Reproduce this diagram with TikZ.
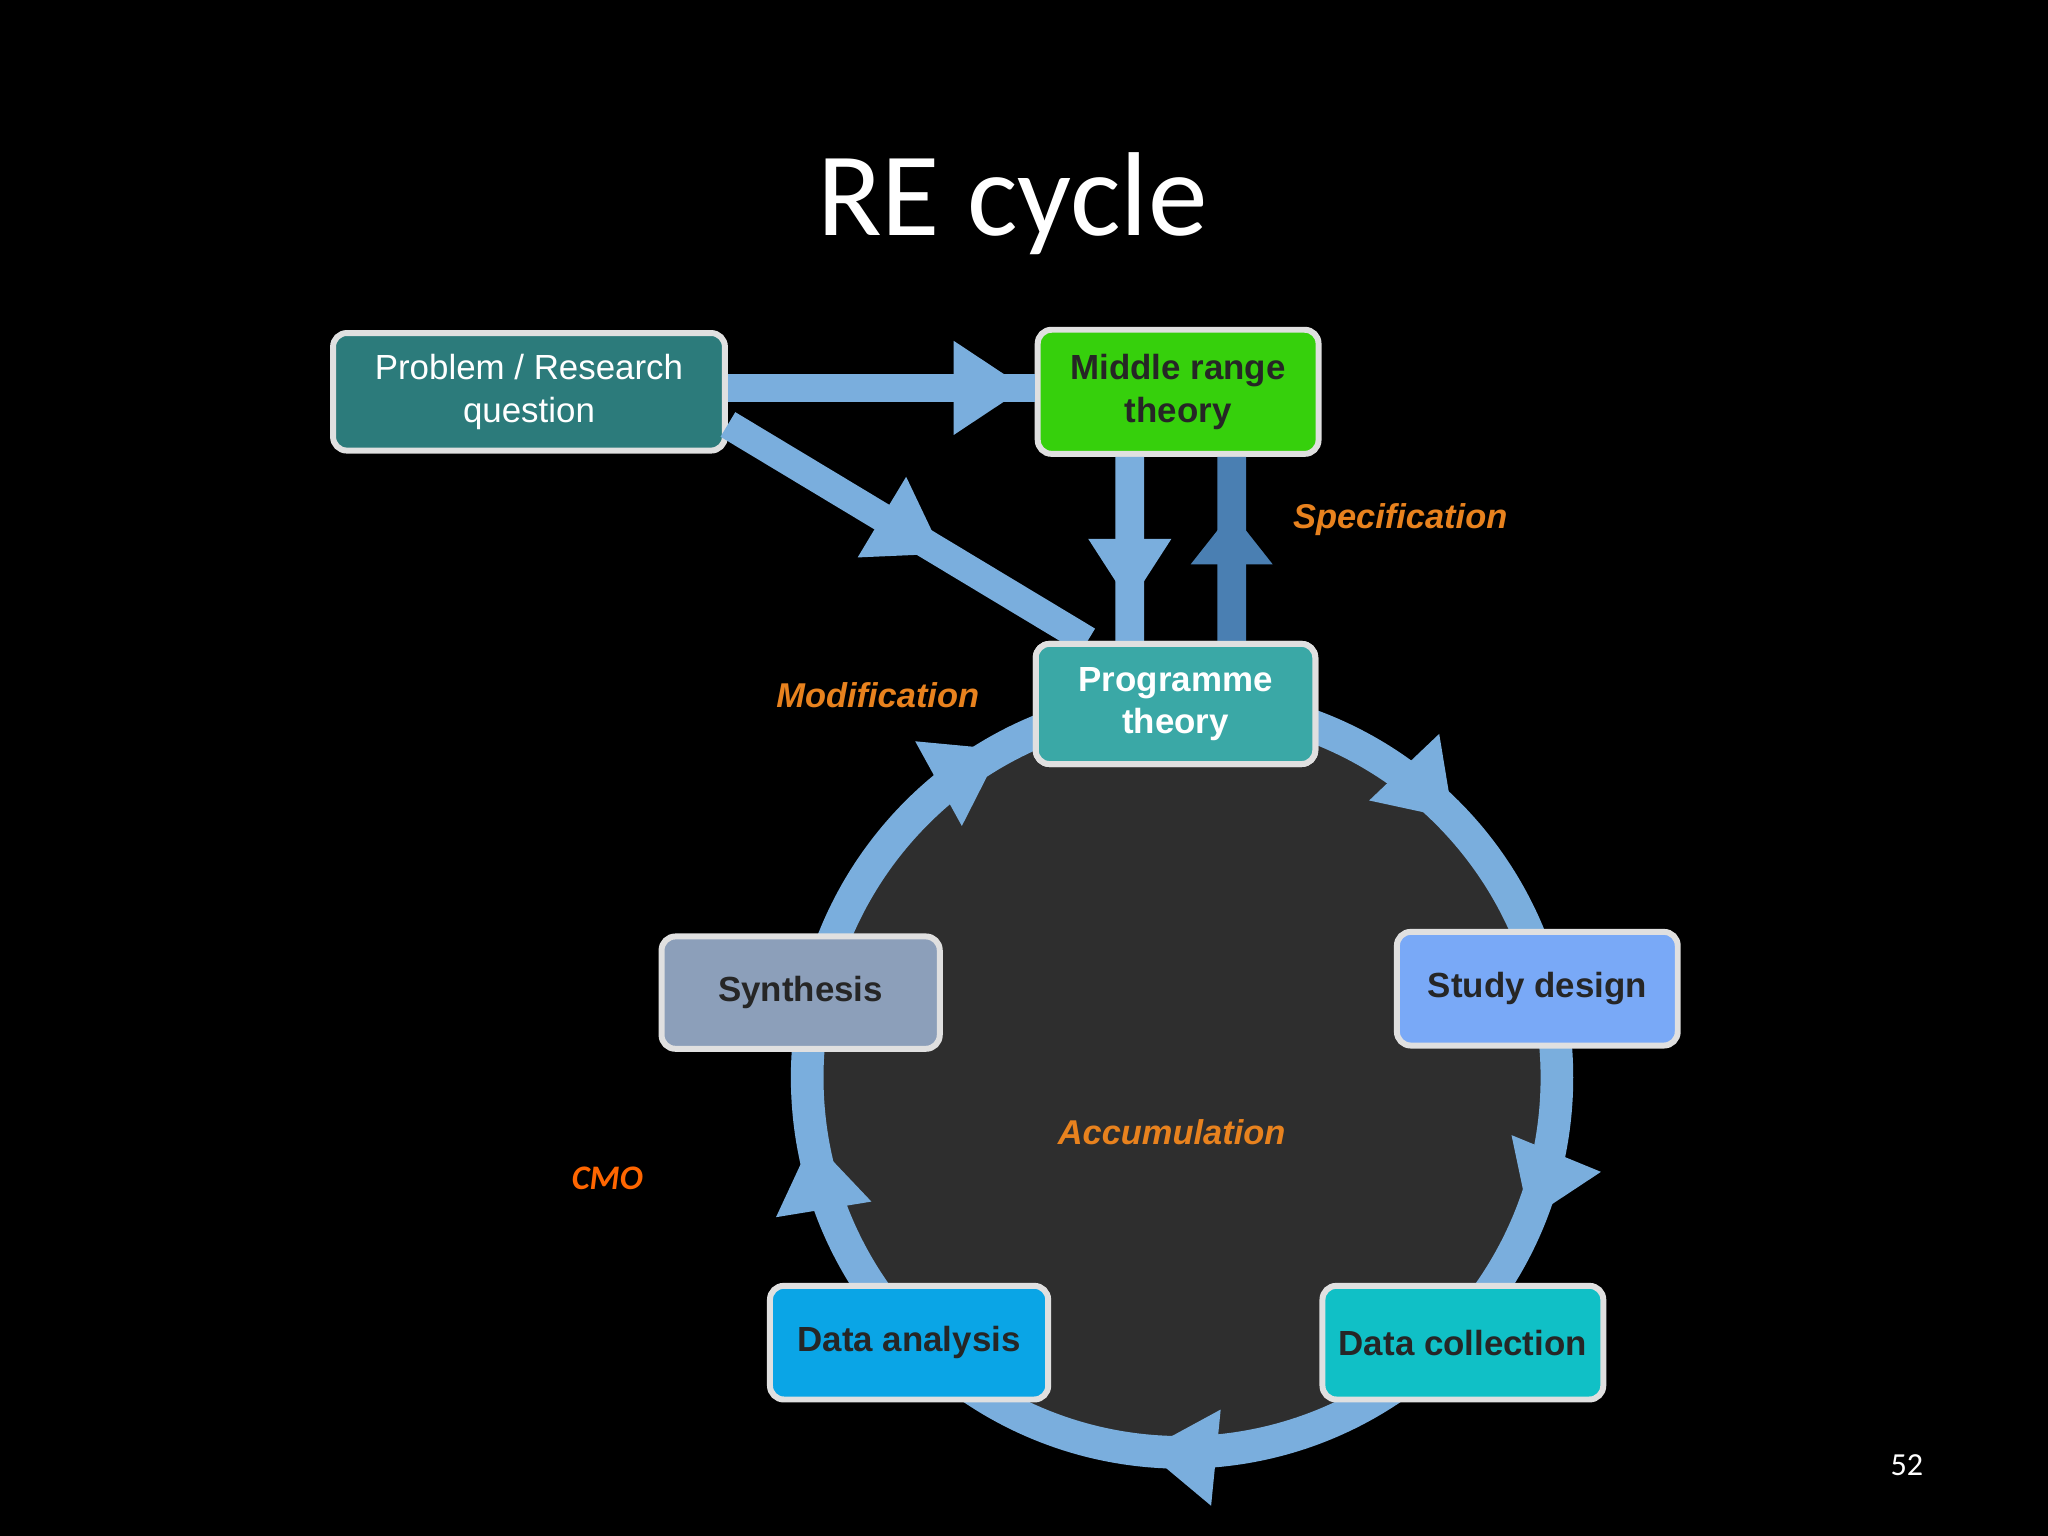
\documentclass[tikz,border=0pt]{standalone}
\usepackage{fontspec}
\setmainfont{Liberation Sans}
\newfontfamily\calfont{Carlito}
\usetikzlibrary{arrows.meta,decorations.markings,calc}
\definecolor{ringc}{HTML}{7AAEDD}
\definecolor{upc}{HTML}{4A7FB2}
\definecolor{orng}{HTML}{E8821E}
\definecolor{probc}{HTML}{2C7B7B}
\tikzset{
 box/.style={draw=black!12, line width=1.3pt, rounded corners=3pt, align=center, font=\fontsize{7.6}{9.3}\selectfont, inner sep=0pt},
 bbox/.style={box, font=\fontsize{7.6}{9.3}\selectfont\bfseries},
 band/.style={line width=0.22cm, ringc},
 lbl/.style={orng, font=\fontsize{7.5}{9}\selectfont\bfseries\itshape}
}
\begin{document}
\begin{tikzpicture}
\useasboundingbox[fill=black] (0,0) rectangle (15.68,11.76);
\node[white, font=\calfont\fontsize{26}{28}\selectfont] (title) at (7.75,10.2) {RE cycle};
\coordinate (C) at (9.05,3.51);
\fill[black!82] (C) circle (2.75);
\draw[line width=0.25cm, ringc, postaction={decorate}, decoration={markings,
  mark=at position 0.062 with {\arrow{Triangle[length=0.55cm,width=0.7cm]}},
  mark=at position 0.266 with {\arrow{Triangle[length=0.55cm,width=0.7cm]}},
  mark=at position 0.474 with {\arrow{Triangle[length=0.55cm,width=0.7cm]}},
  mark=at position 0.670 with {\arrow{Triangle[length=0.55cm,width=0.7cm]}},
  mark=at position 0.879 with {\arrow{Triangle[length=0.55cm,width=0.7cm]}}}]
  (C) ++(0:2.87) arc[start angle=360, end angle=0, radius=2.87];
\node[box, fill=probc, text=white, minimum width=3.0cm, minimum height=0.9cm] (prob) at (4.05,8.76) {Problem / Research\\question};
\node[bbox, fill={rgb,255:red,54;green,208;blue,12}, text=black!85, minimum width=2.15cm, minimum height=0.95cm] (mid) at (9.02,8.76) {Middle range\\theory};
\node[bbox, fill={rgb,255:red,58;green,168;blue,166}, text=white, minimum width=2.14cm, minimum height=0.92cm] (prog) at (9.00,6.37) {Programme\\theory};
\draw[band, postaction={decorate}, decoration={markings, mark=at position 0.97 with {\arrow{Triangle[length=0.55cm,width=0.68cm]}}}] ($(prob.east)+(0,0.03)$) -- ($(mid.west)+(0,0.03)$);
\draw[band, postaction={decorate}, decoration={markings, mark=at position 0.6 with {\arrow{Triangle[length=0.55cm,width=0.68cm]}}}] ($(prob.east)+(0,-0.25)$) -- ($(prog.north west)+(0.42,0)$);
\draw[band, postaction={decorate}, decoration={markings, mark=at position 0.8 with {\arrow{Triangle[length=0.5cm,width=0.6cm]}}}] ($(mid.south)+(-0.37,0)$) -- ($(prog.north)+(-0.35,0)$);
\draw[band, upc, postaction={decorate}, decoration={markings, mark=at position 0.7 with {\arrow{Triangle[length=0.4cm,width=0.6cm]}}}] ($(prog.north)+(0.43,0)$) -- ($(mid.south)+(0.41,0)$);
\node[bbox, fill={rgb,255:red,58;green,168;blue,166}, text=white, minimum width=2.14cm, minimum height=0.92cm] at (prog) {Programme\\theory};
\node[bbox, fill={rgb,255:red,140;green,159;blue,186}, text=black!85, minimum width=2.13cm, minimum height=0.86cm] (syn) at (6.13,4.16) {Synthesis};
\node[bbox, fill={rgb,255:red,121;green,169;blue,247}, text=black!85, minimum width=2.15cm, minimum height=0.87cm] (study) at (11.77,4.19) {Study design};
\node[bbox, fill={rgb,255:red,10;green,165;blue,230}, text=black!85, minimum width=2.13cm, minimum height=0.87cm] (anal) at (6.96,1.48) {Data analysis};
\node[bbox, fill={rgb,255:red,16;green,192;blue,198}, text=black!85, minimum width=2.15cm, minimum height=0.87cm] (coll) at (11.20,1.48) {Data collection};
\node[lbl] (spec) at (10.72,7.78) {Specification};
\node[lbl] (modi) at (6.72,6.44) {Modification};
\node[lbl] (accu) at (8.97,3.09) {Accumulation};
\node[text={rgb,255:red,255;green,102;blue,0}, font=\calfont\fontsize{7.5}{9}\selectfont\bfseries\itshape] (cmo) at (4.65,2.74) {CMO};
\node[white, font=\calfont\fontsize{7}{8}\selectfont] (num) at (14.6,0.54) {52};
\end{tikzpicture}
\end{document}
